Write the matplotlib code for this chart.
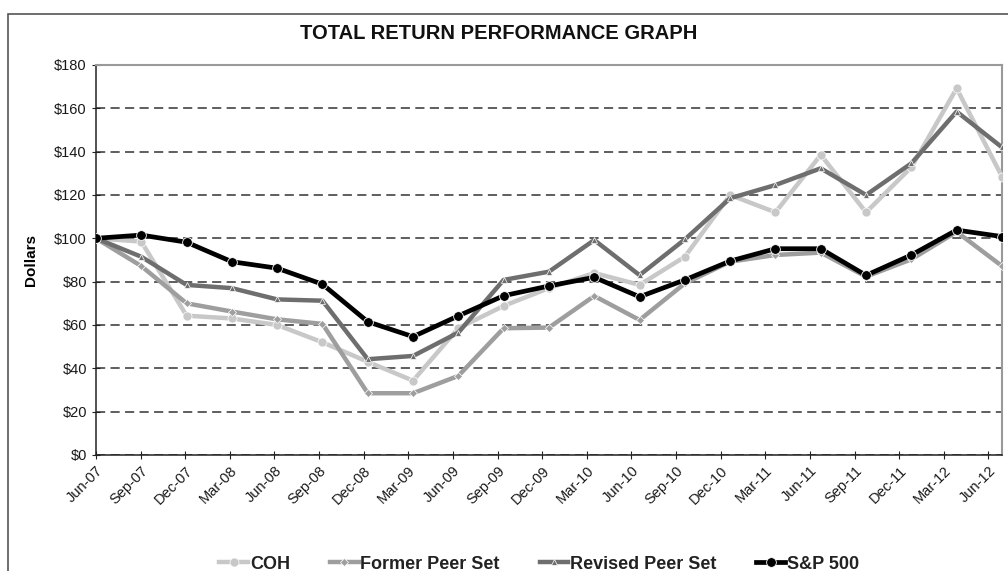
import numpy as np
import matplotlib.pyplot as plt
from matplotlib.patches import Rectangle

plt.rcParams['font.family'] = ['Liberation Sans', 'DejaVu Sans']

# quarterly dates
dates = ['Jun-07', 'Sep-07', 'Dec-07', 'Mar-08', 'Jun-08', 'Sep-08', 'Dec-08',
         'Mar-09', 'Jun-09', 'Sep-09', 'Dec-09', 'Mar-10', 'Jun-10', 'Sep-10',
         'Dec-10', 'Mar-11', 'Jun-11', 'Sep-11', 'Dec-11', 'Mar-12', 'Jun-12']

# total return values (dollars)
coh = [100, 98.5, 64.3, 63, 60, 52, 43, 34.3, 58.5, 68.8, 77, 84, 78.5, 91.5,
       120, 112, 138.5, 112, 132.8, 169.2, 128.5]
former_peer = [100, 87.2, 70, 66.2, 62.6, 60.5, 28.5, 28.5, 36.5, 58.5, 58.8, 73.4,
               62.3, 79.2, 89.2, 92.3, 93.4, 82.3, 90.3, 103, 87.2]
revised_peer = [100, 91.5, 78.5, 77, 71.8, 71.2, 44.2, 45.7, 56.5, 80.8, 84.6, 99.2,
                83, 99.5, 118.5, 124.6, 132.3, 120, 134.6, 158.5, 142]
sp500 = [100, 101.5, 98.2, 89.2, 86.2, 78.8, 61.5, 54.6, 64.2, 73.5, 78, 82, 73,
         80.8, 89.5, 95.2, 95.2, 82.9, 92.3, 103.8, 100.8]

x = np.arange(len(dates))

fig = plt.figure(figsize=(10.08, 5.71), dpi=100)
ax = fig.add_axes([0.0952, 0.2032, 0.8988, 0.683])

# outer frame (cut off at right and bottom like the original)
fig.patches.append(Rectangle((8 / 1008, -0.05), 1.1, 1 - 14 / 571 + 0.05,
                             transform=fig.transFigure, fill=False,
                             edgecolor='#555555', linewidth=1.2))

ax.plot(x, coh, color='#c8c8c8', lw=3.2, marker='o', ms=6.5, mfc='#c8c8c8', mec='white',
        mew=0.5, label='COH', zorder=3)
ax.plot(x, former_peer, color='#9e9e9e', lw=3.2, marker='D', ms=4, mfc='#9e9e9e',
        mec='white', mew=0.5, label='Former Peer Set', zorder=4)
ax.plot(x, revised_peer, color='#6e6e6e', lw=3.2, marker='^', ms=4.5, mfc='#6e6e6e',
        mec='white', mew=0.5, label='Revised Peer Set', zorder=5)
ax.plot(x, sp500, color='black', lw=3.4, marker='o', ms=7, mfc='black', mec='white',
        mew=0.6, label='S&P 500', zorder=6)

ax.set_xlim(0, len(dates) - 1)
ax.set_ylim(0, 180)
ax.set_yticks(np.arange(0, 181, 20))
ax.set_yticklabels(['$%d' % v for v in range(0, 181, 20)])
# category ticks sit a little left of the data points in the original
ax.set_xticks(x * 0.985)
ax.set_xticklabels(dates, rotation=45, ha='right', rotation_mode='anchor')

ax.yaxis.grid(True, linestyle=(0, (6, 3.5)), color='#333333', linewidth=1.1)
ax.set_axisbelow(True)
for side in ['top', 'right']:
    ax.spines[side].set_color('#999999')
    ax.spines[side].set_linewidth(1.5)
for side in ['left', 'bottom']:
    ax.spines[side].set_color('#222222')
    ax.spines[side].set_linewidth(1.1)
ax.tick_params(axis='both', direction='inout', length=6, color='#222222',
               labelsize=10.5, labelcolor='#1a1a1a')
ax.tick_params(axis='x', pad=3)

ax.set_ylabel('Dollars', fontsize=11, fontweight='bold', labelpad=12)
fig.text(0.495, 0.942, 'TOTAL RETURN PERFORMANCE GRAPH', ha='center', va='center',
         fontsize=14.5, fontweight='bold', color='#111111')

leg = fig.legend(loc='center', bbox_to_anchor=(0.535, 0.012), ncol=4, frameon=False,
                 fontsize=13, handlelength=1.6, handletextpad=0.1, columnspacing=2.2)
for t in leg.get_texts():
    t.set_fontweight('bold')
    t.set_color('#222222')

fig.savefig('out.png', dpi=100)
